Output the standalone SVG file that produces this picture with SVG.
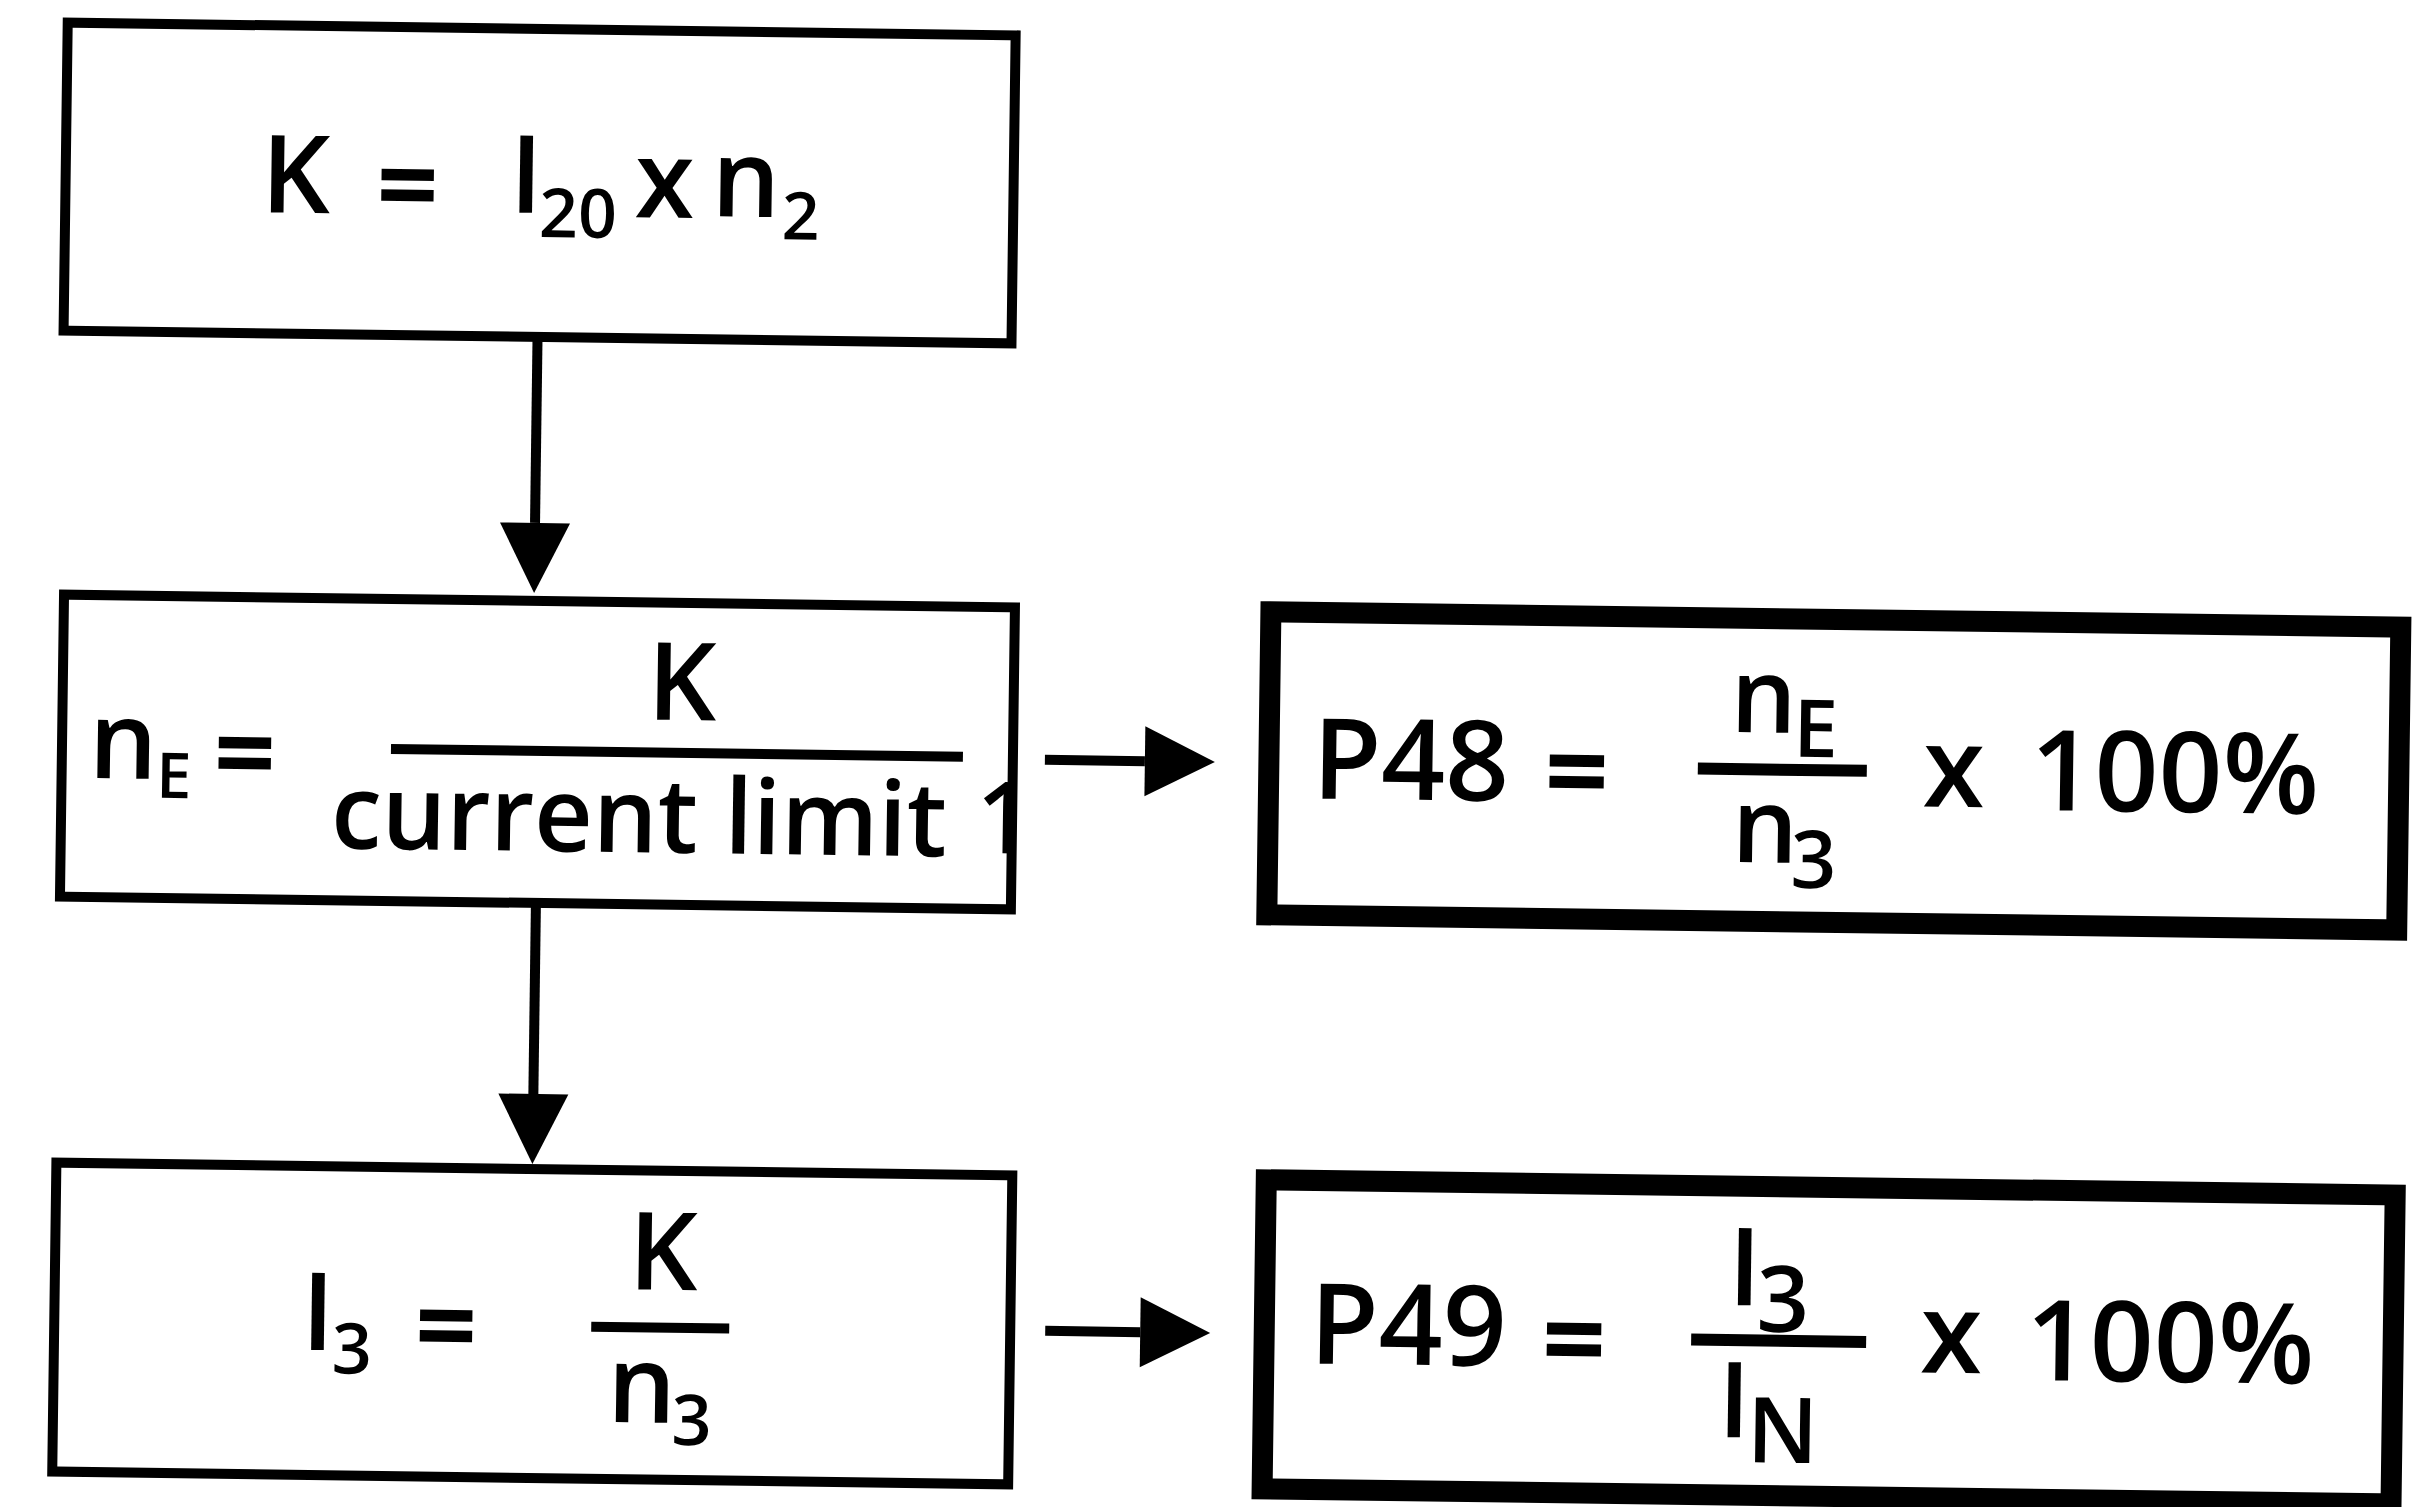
<svg xmlns="http://www.w3.org/2000/svg" width="2417" height="1507" viewBox="0 0 2417 1507">
<style>
.box{fill:#fff;stroke:#000;stroke-width:10}
.bbox{fill:#fff;stroke:#000;stroke-width:21}
.t{font-family:'Open Sans','Liberation Sans',sans-serif;font-weight:600;fill:#000;text-anchor:middle}
.s{text-anchor:start}
.eq{font-weight:700}
.conn{stroke:#000;stroke-width:10;fill:none}
.frac{stroke:#000;stroke-width:10}
</style>
<defs>
<marker id="ah" markerUnits="userSpaceOnUse" markerWidth="72" markerHeight="72" refX="0" refY="35" orient="auto" overflow="visible">
<path d="M0,0 L70,35 L0,70 Z" fill="#000"/>
</marker>
</defs>
<rect width="2417" height="1507" fill="#fff"/>
<g transform="rotate(0.77 1208 753)">
<g id="connectors">
<line class="conn" x1="532" y1="346" x2="532" y2="532" marker-end="url(#ah)"/>
<line class="conn" x1="538" y1="912" x2="538" y2="1103" marker-end="url(#ah)"/>
<line class="conn" x1="1045" y1="762" x2="1145" y2="762" marker-end="url(#ah)"/>
<line class="conn" x1="1053" y1="1333" x2="1148" y2="1333" marker-end="url(#ah)"/>
</g>
<g id="node-k">
<rect class="box" x="58" y="38" width="948" height="308"/>
<text class="t" x="288" y="225" font-size="108">K</text>
<text class="t eq" x="400" y="234" font-size="108">=</text>
<text class="t s" x="502" y="222" font-size="108">I<tspan dx="-3" dy="24" font-size="68">20</tspan></text>
<text class="t" x="657" y="225" font-size="108">x</text>
<text class="t s" x="704" y="223" font-size="108">n<tspan dx="2" dy="22" font-size="66">2</tspan></text>
</g>
<g id="node-ne">
<rect class="box" x="62" y="610" width="951" height="302"/>
<text class="t s" x="89" y="793" font-size="108">n<tspan dx="-1" dy="19" font-size="63">E</tspan></text>
<text class="t eq" x="245" y="804" font-size="108">=</text>
<line class="frac" x1="391" y1="760" x2="963" y2="760"/>
<text class="t" x="681" y="727" font-size="108">K</text>
<text class="t" x="640" y="860" font-size="104" textLength="616" lengthAdjust="spacingAndGlyphs">current limit</text>
<text class="t s" x="977" y="856" font-size="100">1</text>
</g>
<g id="node-i3">
<rect class="box" x="62" y="1178" width="956" height="309"/>
<text class="t s" x="309" y="1362" font-size="108">I<tspan dx="-2" dy="23" font-size="70">3</tspan></text>
<text class="t eq" x="454" y="1374" font-size="108">=</text>
<text class="t" x="670" y="1297" font-size="108">K</text>
<line class="frac" x1="599" y1="1335" x2="737" y2="1335"/>
<text class="t s" x="616" y="1430" font-size="108">n<tspan dx="-4" dy="22" font-size="70">3</tspan></text>
</g>
<g id="node-p48">
<rect class="bbox" x="1269" y="611" width="1130" height="303"/>
<text class="t" x="1411" y="797" font-size="112">P48</text>
<text class="t eq" x="1577" y="806" font-size="112">=</text>
<text class="t s" x="1730" y="725" font-size="104">n<tspan dx="-3" dy="24" font-size="80">E</tspan></text>
<line class="frac" x1="1698" y1="762" x2="1867" y2="762" style="stroke-width:12"/>
<text class="t s" x="1733" y="855" font-size="104">n<tspan dx="-7" dy="25" font-size="80">3</tspan></text>
<text class="t" x="1954" y="797" font-size="112">x</text>
<text class="t" x="2175" y="799" font-size="112">100%</text>
</g>
<g id="node-p49">
<rect class="bbox" x="1272" y="1179" width="1129" height="309"/>
<text class="t" x="1416" y="1362" font-size="112">P49</text>
<text class="t eq" x="1582" y="1374" font-size="112">=</text>
<text class="t s" x="1735" y="1298" font-size="108">I<tspan dx="-4" dy="26" font-size="92">3</tspan></text>
<line class="frac" x1="1699" y1="1333" x2="1874" y2="1333" style="stroke-width:12"/>
<text class="t s" x="1727" y="1430" font-size="105">I<tspan dx="-3" dy="25" font-size="91">N</tspan></text>
<text class="t" x="1959" y="1363" font-size="112">x</text>
<text class="t" x="2178" y="1369" font-size="112">100%</text>
</g>
</g>
</svg>
